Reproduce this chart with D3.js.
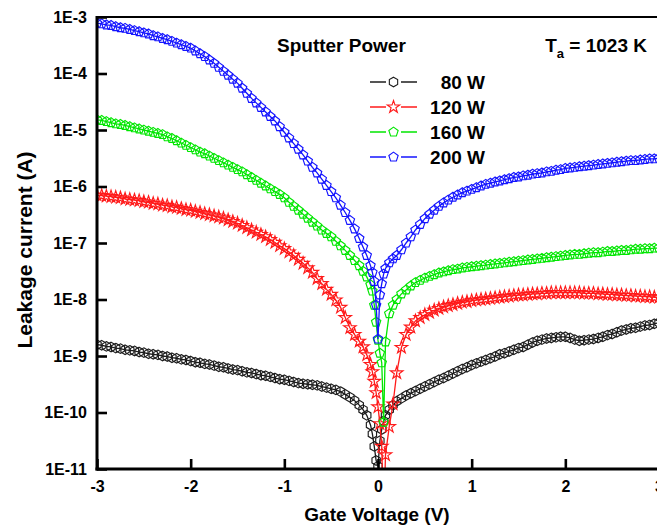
<!DOCTYPE html>
<html>
<head>
<meta charset="utf-8">
<script src="https://cdn.jsdelivr.net/npm/d3@7/dist/d3.min.js"></script>
<style>
  html, body { margin: 0; padding: 0; background: #fff; }
  svg { display: block; font-family: "Liberation Sans", Arial, sans-serif; }
</style>
</head>
<body>
<svg id="chart" width="657" height="525"></svg>
<script>
// Gate voltage sweep (V)
const voltage = [
  -3.00,-2.95,-2.90,-2.85,-2.80,-2.75,-2.70,-2.65,-2.60,-2.55,-2.50,-2.45,-2.40,-2.35,-2.30,-2.25,-2.20,-2.15,-2.10,-2.05,
  -2.00,-1.95,-1.90,-1.85,-1.80,-1.75,-1.70,-1.65,-1.60,-1.55,-1.50,-1.45,-1.40,-1.35,-1.30,-1.25,-1.20,-1.15,-1.10,-1.05,
  -1.00,-0.95,-0.90,-0.85,-0.80,-0.75,-0.70,-0.65,-0.60,-0.55,-0.50,-0.45,-0.40,-0.35,-0.30,-0.25,-0.20,
  -0.16,-0.12,-0.08,-0.06,-0.04,-0.02,0.00,0.02,0.04,0.06,0.08,0.12,0.16,
  0.20,0.25,0.30,0.35,0.40,0.45,0.50,0.55,0.60,0.65,0.70,0.75,0.80,0.85,0.90,0.95,1.00,
  1.05,1.10,1.15,1.20,1.25,1.30,1.35,1.40,1.45,1.50,1.55,1.60,1.65,1.70,1.75,1.80,1.85,1.90,1.95,2.00,
  2.05,2.10,2.15,2.20,2.25,2.30,2.35,2.40,2.45,2.50,2.55,2.60,2.65,2.70,2.75,2.80,2.85,2.90,2.95,3.00
];

// log10 of leakage current (A) for each sputter power
const logI80 = [
  -8.80,-8.81,-8.83,-8.84,-8.86,-8.87,-8.89,-8.90,-8.91,-8.93,-8.94,-8.96,-8.97,-8.98,-9.00,-9.01,-9.03,-9.04,-9.06,-9.07,
  -9.09,-9.11,-9.12,-9.14,-9.15,-9.17,-9.19,-9.20,-9.22,-9.24,-9.25,-9.27,-9.29,-9.30,-9.32,-9.34,-9.35,-9.37,-9.39,-9.41,
  -9.42,-9.44,-9.46,-9.48,-9.49,-9.50,-9.51,-9.52,-9.54,-9.56,-9.58,-9.60,-9.63,-9.68,-9.73,-9.79,-9.87,
  -9.95,-10.05,-10.22,-10.38,-10.60,-10.85,-10.95,-10.50,-10.30,-10.15,-10.05,-9.95,-9.87,
  -9.80,-9.75,-9.70,-9.66,-9.62,-9.58,-9.54,-9.50,-9.46,-9.42,-9.39,-9.35,-9.31,-9.27,-9.23,-9.20,-9.16,
  -9.13,-9.10,-9.07,-9.04,-9.01,-8.97,-8.95,-8.92,-8.89,-8.86,-8.84,-8.80,-8.76,-8.73,-8.71,-8.69,-8.68,-8.67,-8.66,-8.66,
  -8.68,-8.71,-8.73,-8.72,-8.71,-8.70,-8.68,-8.66,-8.63,-8.61,-8.58,-8.55,-8.53,-8.51,-8.50,-8.48,-8.46,-8.45,-8.43,-8.41
];
const logI120 = [
  -6.15,-6.16,-6.17,-6.18,-6.19,-6.20,-6.22,-6.23,-6.24,-6.25,-6.27,-6.28,-6.30,-6.31,-6.33,-6.34,-6.36,-6.37,-6.39,-6.41,
  -6.42,-6.44,-6.46,-6.48,-6.50,-6.52,-6.54,-6.56,-6.59,-6.62,-6.65,-6.69,-6.73,-6.77,-6.81,-6.85,-6.89,-6.94,-6.99,-7.05,
  -7.10,-7.16,-7.22,-7.29,-7.36,-7.44,-7.52,-7.63,-7.72,-7.82,-7.91,-8.01,-8.14,-8.32,-8.50,-8.62,-8.74,
  -8.84,-8.98,-9.15,-9.28,-9.45,-9.65,-9.90,-10.20,-10.60,-12.00,-10.75,-10.25,-9.85,
  -9.30,-8.85,-8.62,-8.49,-8.38,-8.32,-8.27,-8.23,-8.19,-8.16,-8.13,-8.11,-8.09,-8.07,-8.05,-8.04,-8.02,
  -8.01,-8.00,-7.99,-7.98,-7.97,-7.96,-7.95,-7.94,-7.93,-7.92,-7.92,-7.91,-7.90,-7.90,-7.89,-7.89,-7.88,-7.88,-7.88,-7.88,
  -7.88,-7.88,-7.88,-7.89,-7.89,-7.89,-7.90,-7.90,-7.91,-7.91,-7.92,-7.92,-7.93,-7.93,-7.94,-7.94,-7.95,-7.95,-7.96,-7.96
];
const logI160 = [
  -4.82,-4.83,-4.85,-4.87,-4.89,-4.90,-4.92,-4.94,-4.96,-4.98,-5.00,-5.02,-5.04,-5.06,-5.08,-5.12,-5.15,-5.19,-5.23,-5.27,
  -5.31,-5.35,-5.39,-5.42,-5.46,-5.50,-5.54,-5.58,-5.62,-5.66,-5.70,-5.74,-5.79,-5.84,-5.89,-5.94,-5.99,-6.04,-6.09,-6.14,
  -6.20,-6.28,-6.35,-6.42,-6.49,-6.56,-6.63,-6.70,-6.77,-6.83,-6.89,-6.97,-7.05,-7.13,-7.22,-7.31,-7.40,
  -7.50,-7.60,-7.74,-7.85,-8.10,-8.40,-8.72,-8.95,-9.12,-10.17,-8.75,-8.25,-8.10,
  -8.00,-7.90,-7.83,-7.76,-7.70,-7.66,-7.62,-7.59,-7.56,-7.53,-7.51,-7.49,-7.47,-7.46,-7.44,-7.43,-7.42,
  -7.41,-7.40,-7.39,-7.38,-7.37,-7.36,-7.35,-7.34,-7.33,-7.32,-7.31,-7.30,-7.29,-7.28,-7.27,-7.26,-7.25,-7.24,-7.23,-7.22,
  -7.21,-7.20,-7.20,-7.19,-7.18,-7.17,-7.17,-7.16,-7.15,-7.15,-7.14,-7.13,-7.13,-7.12,-7.11,-7.11,-7.10,-7.10,-7.09,-7.09
];
const logI200 = [
  -3.11,-3.12,-3.14,-3.15,-3.17,-3.19,-3.20,-3.22,-3.24,-3.26,-3.28,-3.30,-3.33,-3.35,-3.38,-3.40,-3.43,-3.46,-3.49,-3.52,
  -3.55,-3.60,-3.65,-3.70,-3.76,-3.82,-3.89,-3.96,-4.03,-4.10,-4.17,-4.26,-4.35,-4.44,-4.52,-4.60,-4.68,-4.76,-4.84,-4.94,
  -5.04,-5.14,-5.24,-5.34,-5.44,-5.55,-5.66,-5.76,-5.87,-5.98,-6.09,-6.20,-6.33,-6.46,-6.60,-6.75,-6.92,
  -7.07,-7.22,-7.40,-7.52,-7.68,-8.10,-8.70,-7.92,-7.72,-7.55,-7.45,-7.35,-7.28,
  -7.22,-7.12,-7.00,-6.89,-6.77,-6.67,-6.57,-6.49,-6.42,-6.35,-6.29,-6.24,-6.19,-6.15,-6.11,-6.08,-6.05,
  -6.02,-5.99,-5.96,-5.94,-5.92,-5.90,-5.88,-5.86,-5.84,-5.83,-5.81,-5.80,-5.78,-5.77,-5.76,-5.74,-5.73,-5.71,-5.70,-5.68,
  -5.67,-5.66,-5.65,-5.64,-5.63,-5.62,-5.61,-5.60,-5.59,-5.58,-5.57,-5.56,-5.55,-5.54,-5.54,-5.53,-5.52,-5.51,-5.51,-5.50
];

const seriesNames = ["80 W", "120 W", "160 W", "200 W"];
const seriesColors = ["#1c1c1c", "#ff1a1a", "#00e600", "#1414ff"];
const seriesShapes = ["hexagon", "star", "pentagon", "pentagon"];
const seriesLogs = [logI80, logI120, logI160, logI200];

const xTicks = [-3, -2, -1, 0, 1, 2, 3];
const yTicks = [1e-11, 1e-10, 1e-9, 1e-8, 1e-7, 1e-6, 1e-5, 1e-4, 1e-3];
const yTickLabels = ["1E-11", "1E-10", "1E-9", "1E-8", "1E-7", "1E-6", "1E-5", "1E-4", "1E-3"];

const xTitle = "Gate Voltage (V)";
const yTitle = "Leakage current (A)";
const legendTitle = "Sputter Power";

const svg = d3.select("#chart");
const plotLeft = 97, plotRight = 659, plotTop = 17, plotBottom = 469;

const x = d3.scaleLinear().domain([-3, 3]).range([plotLeft, plotRight]);
const y = d3.scaleLog().domain([1e-11, 1e-3]).range([plotBottom, plotTop]);

// Regular-polygon marker path centred on the origin, first vertex on top
function polygonPath(n, r) {
  const pts = d3.range(n).map(i => {
    const a = -Math.PI / 2 + i * 2 * Math.PI / n;
    return [r * Math.cos(a), r * Math.sin(a)];
  });
  return "M" + pts.map(p => p[0].toFixed(2) + "," + p[1].toFixed(2)).join("L") + "Z";
}
function markerPath(shape) {
  if (shape === "hexagon") return polygonPath(6, 4.8);
  if (shape === "pentagon") return polygonPath(5, 4.9);
  return d3.symbol(d3.symbolStar, 48)();
}

svg.append("defs").append("clipPath").attr("id", "plotClip")
  .append("rect").attr("x", plotLeft).attr("y", plotTop)
  .attr("width", plotRight - plotLeft).attr("height", plotBottom - plotTop);

const plot = svg.append("g").attr("clip-path", "url(#plotClip)");

const line = d3.line().x(d => x(d.v)).y(d => y(d.i));

seriesLogs.forEach((logs, k) => {
  const pts = voltage.map((v, j) => ({ v: v, i: Math.pow(10, logs[j]) }));
  const g = plot.append("g");
  g.append("path").datum(pts)
    .attr("d", line)
    .attr("fill", "none")
    .attr("stroke", seriesColors[k])
    .attr("stroke-width", 1.3);
  const mp = markerPath(seriesShapes[k]);
  g.selectAll("path.m").data(pts).join("path")
    .attr("class", "m")
    .attr("d", mp)
    .attr("transform", d => `translate(${x(d.v)},${y(d.i)})`)
    .attr("fill", "none")
    .attr("stroke", seriesColors[k])
    .attr("stroke-width", 1.15);
});

// Axes with inward ticks
const xAxis = svg.append("g").attr("transform", `translate(0,${plotBottom})`)
  .call(d3.axisBottom(x).tickValues(xTicks).tickFormat(d => String(d))
    .tickSizeInner(-10).tickSizeOuter(0).tickPadding(12));
const yAxis = svg.append("g").attr("transform", `translate(${plotLeft},0)`)
  .call(d3.axisLeft(y).tickValues(yTicks).tickFormat((d, i) => yTickLabels[i])
    .tickSizeInner(-10).tickSizeOuter(0).tickPadding(10));

[xAxis, yAxis].forEach(a => {
  a.select(".domain").remove();
  a.selectAll(".tick line").attr("stroke", "#000").attr("stroke-width", 2.6);
  a.selectAll(".tick text").attr("fill", "#000")
    .style("font-size", "16px").style("font-weight", "bold")
    .style("font-family", "'Liberation Sans', Arial, sans-serif");
});

// Frame
svg.append("line").attr("x1", plotLeft).attr("x2", plotLeft).attr("y1", plotTop - 1).attr("y2", plotBottom + 1.5)
  .attr("stroke", "#000").attr("stroke-width", 3);
svg.append("line").attr("x1", plotLeft - 1.5).attr("x2", plotRight).attr("y1", plotBottom).attr("y2", plotBottom)
  .attr("stroke", "#000").attr("stroke-width", 3);
svg.append("line").attr("x1", plotLeft).attr("x2", plotRight).attr("y1", plotTop).attr("y2", plotTop)
  .attr("stroke", "#000").attr("stroke-width", 2.2);
svg.append("line").attr("x1", plotRight).attr("x2", plotRight).attr("y1", plotTop).attr("y2", plotBottom)
  .attr("stroke", "#000").attr("stroke-width", 2.2);

// Axis titles
svg.append("text").attr("x", 377).attr("y", 521).attr("text-anchor", "middle")
  .style("font-size", "19px").style("font-weight", "bold").text(xTitle);
svg.append("text").attr("transform", "translate(32,250) rotate(-90)").attr("text-anchor", "middle")
  .style("font-size", "21px").style("font-weight", "bold").text(yTitle);

// Annotations
svg.append("text").attr("x", 277).attr("y", 52)
  .style("font-size", "19px").style("font-weight", "bold").text(legendTitle);
const ta = svg.append("text").attr("x", 647).attr("y", 52).attr("text-anchor", "end")
  .style("font-size", "19px").style("font-weight", "bold");
ta.append("tspan").text("T");
ta.append("tspan").attr("dy", 6).style("font-size", "13px").text("a");
ta.append("tspan").attr("dy", -6).text(" = 1023 K");

// Legend
const legend = svg.append("g");
seriesNames.forEach((name, k) => {
  const cy = 82 + k * 25;
  legend.append("line").attr("x1", 370).attr("x2", 386).attr("y1", cy).attr("y2", cy)
    .attr("stroke", seriesColors[k]).attr("stroke-width", 1.5);
  legend.append("line").attr("x1", 401).attr("x2", 417).attr("y1", cy).attr("y2", cy)
    .attr("stroke", seriesColors[k]).attr("stroke-width", 1.5);
  legend.append("path").attr("d", markerPath(seriesShapes[k]))
    .attr("transform", `translate(393.5,${cy})`)
    .attr("fill", "none").attr("stroke", seriesColors[k]).attr("stroke-width", 1.1);
  legend.append("text").attr("x", 485).attr("y", cy + 7).attr("text-anchor", "end")
    .style("font-size", "19px").style("font-weight", "bold").text(name);
});
</script>
</body>
</html>
